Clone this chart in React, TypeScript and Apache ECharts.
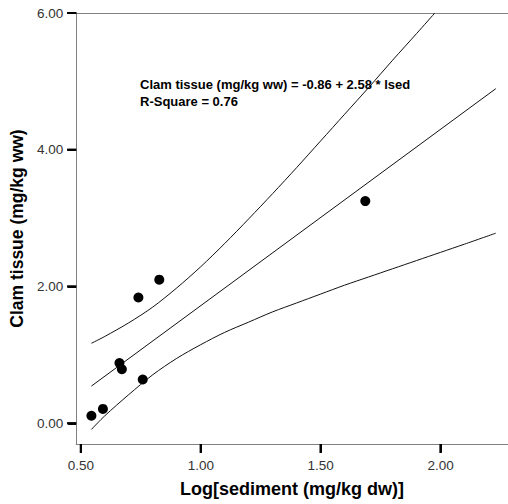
import React, { useEffect, useRef } from "react";
import * as echarts from "echarts";

// Observed points: log sediment (mg/kg dw) vs clam tissue (mg/kg ww)
const sedimentLog = [0.544, 0.592, 0.661, 0.671, 0.740, 0.758, 0.827, 1.686];
const clamTissue = [0.11, 0.21, 0.88, 0.79, 1.84, 0.64, 2.1, 3.25];

// Fitted line endpoints (Clam tissue = -0.86 + 2.58 * lsed)
const fitX = [0.544, 2.23];
const fitY = [0.544, 4.893];

// Upper confidence curve
const upperX = [0.544, 0.6, 0.7, 0.8, 0.9, 1.0, 1.1, 1.2, 1.3, 1.4, 1.5, 1.6, 1.7, 1.8, 1.9, 1.976];
const upperY = [1.17, 1.27, 1.47, 1.70, 1.98, 2.29, 2.63, 2.99, 3.36, 3.74, 4.13, 4.52, 4.91, 5.31, 5.70, 6.0];

// Lower confidence curve
const lowerX = [0.544, 0.6, 0.7, 0.8, 0.9, 1.0, 1.1, 1.2, 1.3, 1.4, 1.5, 1.6, 1.7, 1.8, 1.9, 2.0, 2.1, 2.23];
const lowerY = [-0.09, 0.11, 0.42, 0.71, 0.95, 1.15, 1.33, 1.48, 1.63, 1.76, 1.89, 2.02, 2.14, 2.26, 2.38, 2.50, 2.62, 2.78];

const xTicks = [0.5, 1.0, 1.5, 2.0];
const yTicks = [0, 2, 4, 6];

const xMin = 0.4805;
const xMax = 2.281;
const yMin = -0.303;
const yMax = 6;

const equationText = "Clam tissue (mg/kg ww) = -0.86 + 2.58 * lsed";
const rSquareText = "R-Square = 0.76";
const xTitle = "Log[sediment (mg/kg dw)]";
const yTitle = "Clam tissue (mg/kg ww)";

const zip = (a: number[], b: number[]) => a.map((v, i) => [v, b[i]]);

export default function App() {
  const ref = useRef<HTMLDivElement>(null);
  useEffect(() => {
    if (!ref.current) return;
    const chart = echarts.init(ref.current, null, { renderer: "svg" });
    const font = "Arial, 'Liberation Sans', sans-serif";
    const lineCol = "#111";
    const tickCol = "#000";
    const labelCol = "#333";
    const tickLen = 8;
    chart.setOption({
      animation: false,
      grid: { left: 73, top: 13, right: 0, bottom: 60, containLabel: false },
      xAxis: [
        {
          type: "value",
          min: xMin,
          max: xMax,
          name: xTitle,
          nameLocation: "middle",
          nameGap: 36,
          nameTextStyle: { fontFamily: font, fontSize: 18, fontWeight: "bold", color: "#000" },
          axisLine: { show: true, onZero: false, lineStyle: { color: "#808080", width: 1 } },
          axisTick: { show: true, customValues: xTicks, length: tickLen, lineStyle: { color: tickCol, width: 2 } },
          axisLabel: {
            customValues: xTicks,
            margin: 14,
            fontFamily: font,
            fontSize: 13.5,
            color: labelCol,
            formatter: (v: number) => v.toFixed(2),
          },
          splitLine: { show: false },
        },
        {
          type: "value",
          position: "top",
          min: xMin,
          max: xMax,
          axisLine: { show: true, onZero: false, lineStyle: { color: "#808080", width: 1 } },
          axisTick: { show: false },
          axisLabel: { show: false },
          splitLine: { show: false },
        },
      ],
      yAxis: {
        type: "value",
        min: yMin,
        max: yMax,
        name: yTitle,
        nameLocation: "middle",
        nameGap: 44,
        nameTextStyle: { fontFamily: font, fontSize: 17.5, fontWeight: "bold", color: "#000" },
        axisLine: { show: true, onZero: false, lineStyle: { color: "#808080", width: 1 } },
        axisTick: { show: true, customValues: yTicks, length: tickLen, lineStyle: { color: tickCol, width: 2 } },
        axisLabel: {
          customValues: yTicks,
          margin: 13,
          fontFamily: font,
          fontSize: 13.5,
          color: labelCol,
          formatter: (v: number) => v.toFixed(2),
        },
        splitLine: { show: false },
      },
      graphic: [
        {
          type: "text",
          left: 140,
          top: 75.5,
          style: {
            text: equationText + "\n" + rSquareText,
            fontFamily: font,
            fontSize: 13,
            fontWeight: "bold",
            fill: "#000",
            lineHeight: 17,
          },
          z: 10,
        },
      ],
      series: [
        {
          type: "line",
          data: zip(upperX, upperY),
          showSymbol: false,
          smooth: 0.3,
          lineStyle: { color: lineCol, width: 1 },
          clip: true,
        },
        {
          type: "line",
          data: zip(fitX, fitY),
          showSymbol: false,
          lineStyle: { color: lineCol, width: 1 },
        },
        {
          type: "line",
          data: zip(lowerX, lowerY),
          showSymbol: false,
          smooth: 0.3,
          lineStyle: { color: lineCol, width: 1 },
        },
        {
          type: "scatter",
          data: zip(sedimentLog, clamTissue),
          symbolSize: 10,
          itemStyle: { color: "#000", opacity: 1 },
          z: 5,
        },
        {
          // x-axis tick marks (scatter rects hung below the axis line)
          type: "scatter",
          clip: false,
          silent: true,
          z: 8,
          data: xTicks.map((v) => [v, yMin]),
          symbol: "rect",
          symbolSize: [2, tickLen + 1],
          symbolOffset: [0, (tickLen + 1) / 2],
          itemStyle: { color: tickCol, opacity: 1 },
        },
        {
          // y-axis tick marks (scatter rects to the left of the axis line)
          type: "scatter",
          clip: false,
          silent: true,
          z: 8,
          data: yTicks.map((v) => [xMin, v]),
          symbol: "rect",
          symbolSize: [tickLen + 1, 2],
          symbolOffset: [-(tickLen + 1) / 2, 0],
          itemStyle: { color: tickCol, opacity: 1 },
        },
        {
          // same x ticks through a custom series, in case the scatter ones are hidden
          type: "custom",
          clip: false,
          z: 8,
          data: xTicks.map((v) => [v, yMin]),
          renderItem: (_p: any, api: any) => {
            const pt = api.coord([api.value(0), api.value(1)]);
            return {
              type: "rect",
              shape: { x: pt[0] - 1, y: pt[1], width: 2, height: tickLen + 1 },
              style: { fill: tickCol },
            };
          },
        },
        {
          type: "custom",
          clip: false,
          z: 8,
          data: yTicks.map((v) => [xMin, v]),
          renderItem: (_p: any, api: any) => {
            const pt = api.coord([api.value(0), api.value(1)]);
            return {
              type: "rect",
              shape: { x: pt[0] - tickLen - 1, y: pt[1] - 1, width: tickLen + 1, height: 2 },
              style: { fill: tickCol },
            };
          },
        },
      ],
    });
    return () => chart.dispose();
  }, []);
  return (
    <div
      ref={ref}
      style={{ position: "absolute", left: 0, top: 0, width: 508, height: 504, background: "#fff" }}
    />
  );
}
